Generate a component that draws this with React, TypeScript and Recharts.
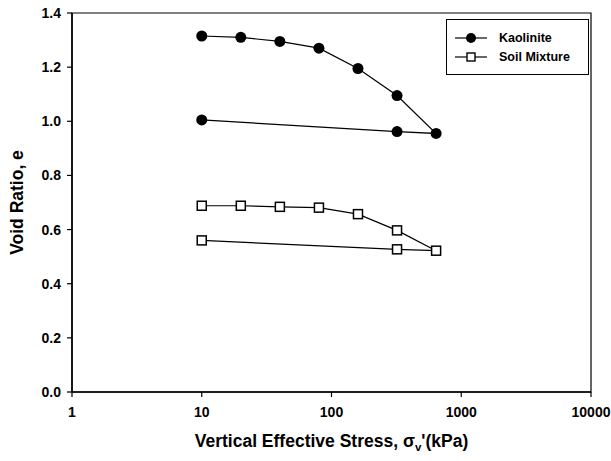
import React from 'react';
import {
  LineChart,
  Line,
  XAxis,
  YAxis,
  Legend,
  Label,
  ReferenceArea,
} from 'recharts';

// loading path 10 -> 640 kPa, then unloading back to 10 kPa
const stress = [10, 20, 40, 80, 160, 320, 640, 320, 10];
const kaolinite = [1.315, 1.31, 1.295, 1.27, 1.195, 1.095, 0.955, 0.962, 1.005];
const soilMixture = [0.688, 0.688, 0.684, 0.681, 0.657, 0.597, 0.522, 0.527, 0.56];

const xTicks = [1, 10, 100, 1000, 10000];
const yTicks = [0, 0.2, 0.4, 0.6, 0.8, 1.0, 1.2, 1.4];

const font = '"Liberation Sans", Arial, sans-serif';

const kaoData = stress.map((s, i) => ({ s, e: kaolinite[i] }));
const soilData = stress.map((s, i) => ({ s, e: soilMixture[i] }));

const CircleDot = (props: any) => {
  const { cx, cy } = props;
  if (cx == null || cy == null) return null;
  return <circle cx={cx} cy={cy} r={5.5} fill="#000" />;
};

const SquareDot = (props: any) => {
  const { cx, cy } = props;
  if (cx == null || cy == null) return null;
  return (
    <rect x={cx - 4.5} y={cy - 4.5} width={9} height={9} fill="#fff" stroke="#000" strokeWidth={1.5} />
  );
};

const XTick = (props: any) => {
  const { x, y, payload } = props;
  return (
    <text x={x} y={y} dy="0.71em" textAnchor="middle" fontFamily={font} fontWeight="bold" fontSize={14} fill="#000">
      {payload.value}
    </text>
  );
};

const YTick = (props: any) => {
  const { x, y, payload } = props;
  return (
    <text x={x} y={y} dy="0.36em" textAnchor="end" fontFamily={font} fontWeight="bold" fontSize={14} fill="#000">
      {Number(payload.value).toFixed(1)}
    </text>
  );
};

const LegendBox = () => (
  <div
    style={{
      border: '1.5px solid #000',
      width: 143,
      height: 56,
      boxSizing: 'border-box',
      background: '#fff',
      fontFamily: font,
      fontWeight: 'bold',
      fontSize: 12.5,
      paddingTop: 8,
    }}
  >
    {[
      { name: 'Kaolinite', square: false },
      { name: 'Soil Mixture', square: true },
    ].map((it) => (
      <div key={it.name} style={{ display: 'flex', alignItems: 'center', height: 19 }}>
        <svg width={50} height={12} style={{ marginLeft: 6 }}>
          <line x1={2} y1={6} x2={34} y2={6} stroke="#000" strokeWidth={1.2} />
          {it.square ? (
            <rect x={14} y={2} width={8} height={8} fill="#fff" stroke="#000" strokeWidth={1.4} />
          ) : (
            <circle cx={18} cy={6} r={5} fill="#000" />
          )}
        </svg>
        <span style={{ marginLeft: -4 }}>{it.name}</span>
      </div>
    ))}
  </div>
);

const XTitle = (props: any) => {
  const { viewBox } = props;
  const cx = viewBox.x + viewBox.width / 2;
  return (
    <text x={cx} y={447} textAnchor="middle" fontFamily={font} fontWeight="bold" fontSize={17.5} fill="#000">
      <tspan>Vertical Effective Stress, σ</tspan>
      <tspan dy={4} fontSize={11.5}>v</tspan>
      <tspan dy={-4}>'(kPa)</tspan>
    </text>
  );
};

const YTitle = (props: any) => {
  const { viewBox } = props;
  const cy = viewBox.y + viewBox.height / 2;
  return (
    <text
      x={18}
      y={cy}
      transform={`rotate(-90, 18, ${cy})`}
      textAnchor="middle"
      dominantBaseline="middle"
      fontFamily={font}
      fontWeight="bold"
      fontSize={17.5}
      fill="#000"
    >
      Void Ratio, e
    </text>
  );
};

const App: React.FC = () => {
  return (
    <div style={{ width: 611, height: 461, background: '#fff' }}>
      <style>{'body{margin:0;background:#fff}'}</style>
      <LineChart width={611} height={461} margin={{ top: 13, right: 20, bottom: 29, left: 22 }}>
        <XAxis
          type="number"
          dataKey="s"
          scale="log"
          domain={[1, 10000]}
          ticks={xTicks}
          allowDataOverflow
          axisLine={{ stroke: '#000', strokeWidth: 1.5 }}
          tickLine={{ stroke: '#000', strokeWidth: 1.2 }}
          tickSize={5}
          tickMargin={10}
          tick={<XTick />}
          height={40}
        >
          <Label content={<XTitle />} />
        </XAxis>
        <YAxis
          type="number"
          domain={[0, 1.4]}
          ticks={yTicks}
          axisLine={{ stroke: '#000', strokeWidth: 1.5 }}
          tickLine={{ stroke: '#000', strokeWidth: 1.2 }}
          tickSize={5}
          tickMargin={6}
          tick={<YTick />}
          width={50}
        >
          <Label content={<YTitle />} />
        </YAxis>
        {/* plot frame */}
        <ReferenceArea
          x1={1}
          x2={10000}
          y1={0}
          y2={1.4}
          fill="none"
          fillOpacity={0}
          stroke="#000"
          strokeWidth={1.2}
          strokeOpacity={1}
          ifOverflow="visible"
        />
        <Legend
          layout="horizontal"
          verticalAlign="middle"
          align="center"
          content={<LegendBox />}
          wrapperStyle={{ position: 'absolute', top: 19, left: 446, width: 143, height: 56 }}
        />
        <Line
          data={kaoData}
          dataKey="e"
          name="Kaolinite"
          type="linear"
          stroke="#000"
          strokeWidth={1.2}
          dot={<CircleDot />}
          activeDot={false}
          isAnimationActive={false}
        />
        <Line
          data={soilData}
          dataKey="e"
          name="Soil Mixture"
          type="linear"
          stroke="#000"
          strokeWidth={1.2}
          dot={<SquareDot />}
          activeDot={false}
          isAnimationActive={false}
        />
      </LineChart>
    </div>
  );
};

export default App;
